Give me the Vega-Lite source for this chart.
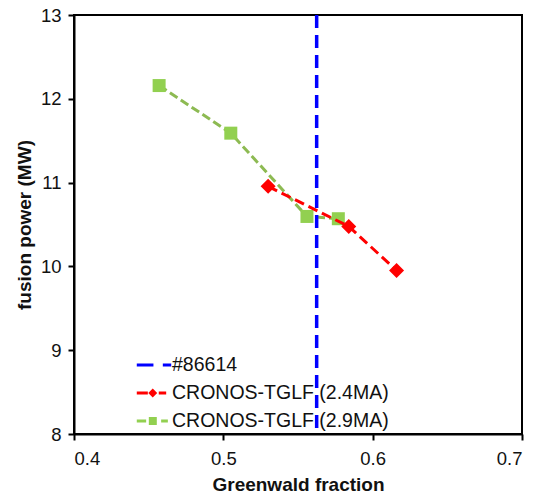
{
  "$schema": "https://vega.github.io/schema/vega-lite/v6.json",
  "width": 448,
  "height": 419,
  "autosize": {"type": "none"},
  "padding": {"left": 74, "top": 15, "right": 15, "bottom": 60},
  "background": "white",
  "config": {
    "font": "Liberation Sans",
    "view": {"stroke": "#000", "strokeWidth": 2},
    "axis": {
      "grid": false,
      "domainColor": "#000",
      "domainWidth": 2,
      "tickColor": "#000",
      "tickWidth": 2,
      "tickSize": 6,
      "labelFontSize": 18.5,
      "labelColor": "#111",
      "labelFont": "Liberation Sans",
      "titleFont": "Liberation Sans",
      "titleFontSize": 19,
      "titleFontWeight": "bold",
      "titleColor": "#111"
    }
  },
  "data": {
    "values": [
      {"series": "#86614", "x": 0.5625, "y": null},
      {"series": "CRONOS-TGLF (2.4MA)", "x": 0.530, "y": 10.955},
      {"series": "CRONOS-TGLF (2.4MA)", "x": 0.584, "y": 10.477},
      {"series": "CRONOS-TGLF (2.4MA)", "x": 0.616, "y": 9.951},
      {"series": "CRONOS-TGLF (2.9MA)", "x": 0.457, "y": 12.158},
      {"series": "CRONOS-TGLF (2.9MA)", "x": 0.505, "y": 11.59},
      {"series": "CRONOS-TGLF (2.9MA)", "x": 0.556, "y": 10.596},
      {"series": "CRONOS-TGLF (2.9MA)", "x": 0.577, "y": 10.569}
    ]
  },
  "layer": [
    {
      "transform": [{"filter": "datum.series === 'CRONOS-TGLF (2.9MA)'"}],
      "mark": {"type": "line", "color": "#8DBA52", "strokeDash": [9, 4], "strokeWidth": 3, "strokeCap": "butt"},
      "encoding": {
        "x": {
          "field": "x", "type": "quantitative",
          "scale": {"domain": [0.4, 0.7], "nice": false, "zero": false},
          "axis": {"values": [0.4, 0.5, 0.6, 0.7], "format": ".1f", "title": "Greenwald fraction", "labelPadding": 9, "titlePadding": 8}
        },
        "y": {
          "field": "y", "type": "quantitative",
          "scale": {"domain": [8, 13], "nice": false, "zero": false},
          "axis": {"values": [8, 9, 10, 11, 12, 13], "format": "d", "title": "fusion power (MW)", "labelPadding": 7, "titlePadding": 6}
        }
      }
    },
    {
      "transform": [{"filter": "datum.series === 'CRONOS-TGLF (2.9MA)'"}],
      "mark": {"type": "point", "shape": "square", "filled": true, "color": "#92D050", "opacity": 1, "size": 169},
      "encoding": {
        "x": {"field": "x", "type": "quantitative"},
        "y": {"field": "y", "type": "quantitative"}
      }
    },
    {
      "transform": [{"filter": "datum.series === 'CRONOS-TGLF (2.4MA)'"}],
      "mark": {"type": "line", "color": "#FF0000", "strokeDash": [10, 5], "strokeWidth": 3, "strokeCap": "butt"},
      "encoding": {
        "x": {"field": "x", "type": "quantitative"},
        "y": {"field": "y", "type": "quantitative"}
      }
    },
    {
      "transform": [{"filter": "datum.series === 'CRONOS-TGLF (2.4MA)'"}],
      "mark": {"type": "point", "shape": "diamond", "filled": true, "color": "#FF0000", "opacity": 1, "size": 225},
      "encoding": {
        "x": {"field": "x", "type": "quantitative"},
        "y": {"field": "y", "type": "quantitative"}
      }
    },
    {
      "transform": [{"filter": "datum.series === '#86614'"}],
      "mark": {"type": "rule", "strokeDash": [13, 7], "strokeWidth": 3.5, "strokeCap": "butt"},
      "encoding": {
        "x": {"field": "x", "type": "quantitative"},
        "color": {
          "field": "series", "type": "nominal",
          "scale": {"domain": ["#86614", "CRONOS-TGLF (2.4MA)", "CRONOS-TGLF (2.9MA)"], "range": ["#0000FF", "#FF0000", "#92D050"]},
          "legend": {
            "title": null,
            "orient": "none",
            "legendX": 66,
            "legendY": 336,
            "padding": 0,
            "rowPadding": 4,
            "symbolSize": 784,
            "labelOffset": 4,
            "labelFontSize": 19.5,
            "labelFont": "Liberation Sans",
            "labelColor": "#111",
            "labelLimit": 400,
            "encode": {
              "symbols": {
                "update": {
                  "shape": {"signal": "datum.value === '#86614' ? 'M-1.23,-0.11H-0.04V0.11H-1.23Z M0.63,-0.11H1.23V0.11H0.63Z' : datum.value === 'CRONOS-TGLF (2.4MA)' ? 'M-1.23,-0.11H-0.44V0.11H-1.23Z M-0.41,0L-0.09,-0.32L0.23,0L-0.09,0.32Z M0.34,-0.11H0.87V0.11H0.34Z' : 'M-1.23,-0.11H-0.56V0.11H-1.23Z M-0.37,-0.29H0.2V0.29H-0.37Z M0.51,-0.11H0.99V0.11H0.51Z'"},
                  "fill": {"signal": "datum.value === '#86614' ? '#0000FF' : datum.value === 'CRONOS-TGLF (2.4MA)' ? '#FF0000' : '#92D050'"},
                  "stroke": {"value": "transparent"},
                  "strokeWidth": {"value": 0},
                  "strokeDash": {"value": []},
                  "opacity": {"value": 1},
                  "size": {"value": 784}
                }
              }
            }
          }
        }
      }
    }
  ]
}
